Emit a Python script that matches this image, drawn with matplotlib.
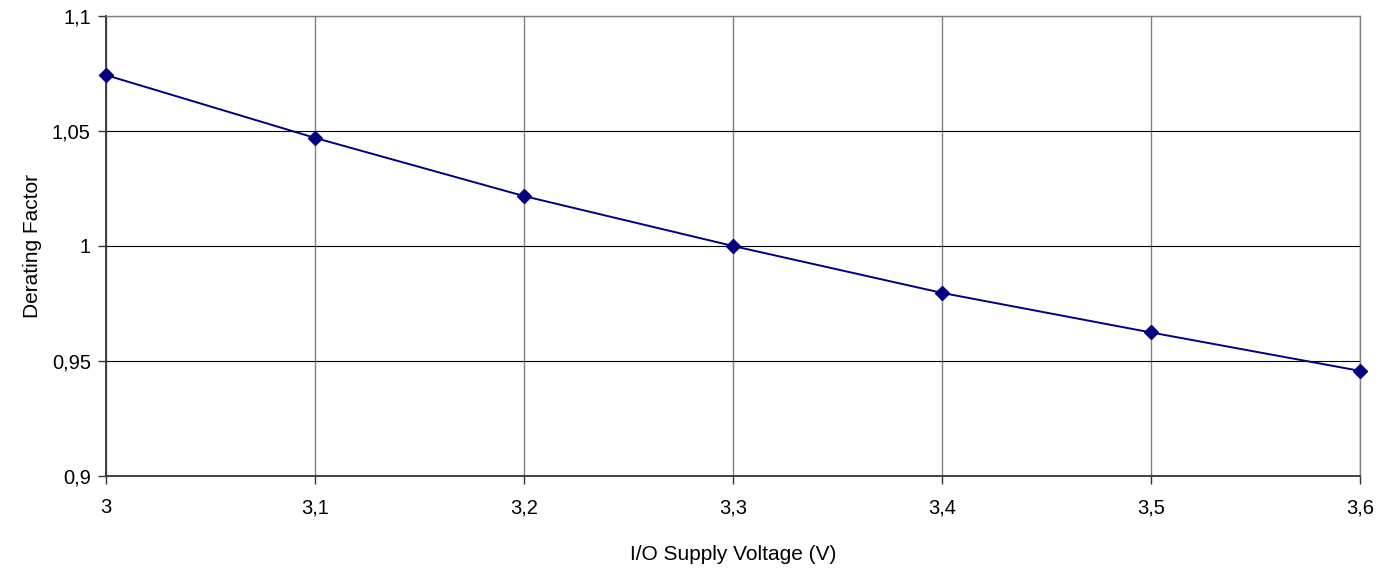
import matplotlib.pyplot as plt
from matplotlib.ticker import FuncFormatter

# Data
voltage = [3.0, 3.1, 3.2, 3.3, 3.4, 3.5, 3.6]
derating = [1.0743, 1.047, 1.0217, 1.0, 0.9796, 0.9624, 0.9457]

x_ticks = [3.0, 3.1, 3.2, 3.3, 3.4, 3.5, 3.6]
y_ticks = [0.9, 0.95, 1.0, 1.05, 1.1]

plt.rcParams['font.family'] = ['Liberation Sans', 'DejaVu Sans']

fig = plt.figure(figsize=(13.97, 5.71), dpi=100)
ax = fig.add_axes([0.0759, 0.1664, 0.8976, 0.8056])

ax.plot(voltage, derating, color='#000080', linewidth=1.4, marker='D',
        markersize=7.5, clip_on=False, zorder=3)

ax.set_xlim(3.0, 3.6)
ax.set_ylim(0.9, 1.1)
ax.set_xticks(x_ticks)
ax.set_yticks(y_ticks)


def comma(v, pos):
    return ('%g' % round(v, 3)).replace('.', ',')


ax.xaxis.set_major_formatter(FuncFormatter(comma))
ax.yaxis.set_major_formatter(FuncFormatter(comma))

ax.xaxis.grid(True, color='#808080', linewidth=1.0)
ax.yaxis.grid(True, color='#000000', linewidth=0.8)
ax.set_axisbelow(True)

for s in ax.spines.values():
    s.set_color('#808080')
    s.set_linewidth(1.0)
ax.spines['left'].set_color('#333333')
ax.spines['bottom'].set_color('#333333')
ax.spines['left'].set_linewidth(1.3)
ax.spines['bottom'].set_linewidth(1.3)

ax.tick_params(axis='both', direction='out', length=6, width=1,
               colors='#333333', labelcolor='black', labelsize=14.5)
ax.tick_params(axis='x', pad=10)
ax.tick_params(axis='y', pad=5)

ax.set_xlabel('I/O Supply Voltage (V)', fontsize=15, labelpad=20)
ax.set_ylabel('Derating Factor', fontsize=15, labelpad=7)

fig.savefig('out.png', dpi=100)
